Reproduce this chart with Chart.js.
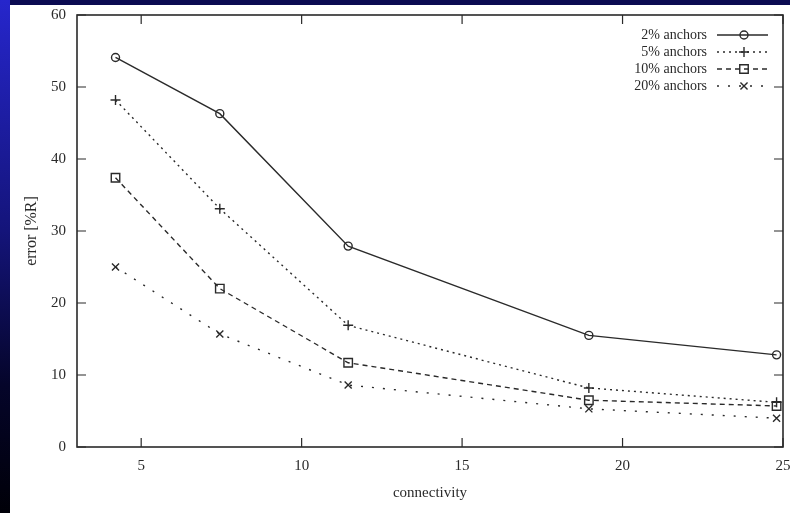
<!DOCTYPE html>
<html>
<head>
<meta charset="utf-8">
<script src="https://cdn.jsdelivr.net/npm/chart.js@4.4.1/dist/chart.umd.min.js"></script>
<style>
  html, body { margin: 0; padding: 0; width: 790px; height: 513px; overflow: hidden; background: #0b0b52; }
  #strip { position: absolute; left: 0; top: 0; width: 10px; height: 513px; background: linear-gradient(to bottom, #2626cc 0%, #14147a 45%, #05052a 75%, #000008 100%); }
  #panel { position: absolute; left: 10px; top: 5px; width: 780px; height: 508px; background: #ffffff; overflow: hidden; }
  canvas { display: block; margin-top: -2px; }
</style>
</head>
<body>
<div id="strip"></div>
<div id="panel"><canvas id="c" width="800" height="510"></canvas></div>
<script>
// ---- data ----
const connectivity = [4.2, 7.45, 11.45, 18.95, 24.8];
const anchors2  = [54.1, 46.3, 27.9, 15.5, 12.8];
const anchors5  = [48.2, 33.1, 16.9, 8.2, 6.2];
const anchors10 = [37.4, 22.0, 11.7, 6.5, 5.7];
const anchors20 = [25.0, 15.7, 8.6, 5.3, 4.0];
const seriesLabels = ['2% anchors', '5% anchors', '10% anchors', '20% anchors'];
const xTickValues = [5, 10, 15, 20, 25];
const yTickValues = [0, 10, 20, 30, 40, 50, 60];

const ink = '#2a2a2a';
const font = "'Liberation Serif', 'DejaVu Serif', serif";

function pts(ys) { return connectivity.map((x, i) => ({ x: x, y: ys[i] })); }

const styles = [
  { dash: [],      style: 'circle',   r: 4 },
  { dash: [2, 4],  style: 'cross',    r: 5 },
  { dash: [5, 4],  style: 'rect',     r: 6 },
  { dash: [2, 9],  style: 'crossRot', r: 5 }
];
const seriesData = [anchors2, anchors5, anchors10, anchors20];

const datasets = seriesData.map((ys, i) => ({
  label: seriesLabels[i],
  data: pts(ys),
  borderColor: ink,
  borderWidth: 1.4,
  borderDash: styles[i].dash,
  pointStyle: styles[i].style,
  pointRadius: styles[i].r,
  pointBorderColor: ink,
  pointBorderWidth: 1.4,
  pointBackgroundColor: 'rgba(255,255,255,0)',
  fill: false,
  tension: 0
}));

const frame = {
  id: 'gnuplotFrame',
  afterDatasetsDraw(chart) {
    const ctx = chart.ctx;
    const a = chart.chartArea;
    const xs = chart.scales.x, ys = chart.scales.y;
    ctx.save();
    ctx.strokeStyle = ink;
    ctx.lineWidth = 1.6;
    ctx.setLineDash([]);
    ctx.strokeRect(a.left, a.top, a.right - a.left, a.bottom - a.top);
    const tl = 9;
    ctx.lineWidth = 1.2;
    ctx.beginPath();
    xTickValues.forEach(v => {
      const px = xs.getPixelForValue(v);
      ctx.moveTo(px, a.bottom); ctx.lineTo(px, a.bottom - tl);
      ctx.moveTo(px, a.top); ctx.lineTo(px, a.top + tl);
    });
    yTickValues.forEach(v => {
      const py = ys.getPixelForValue(v);
      ctx.moveTo(a.left, py); ctx.lineTo(a.left + tl, py);
      ctx.moveTo(a.right, py); ctx.lineTo(a.right - tl, py);
    });
    ctx.stroke();

    // legend (gnuplot style, top right inside)
    const textRight = 697, lineL = 707, lineR = 758, mark = 734;
    const rowY = [32, 49, 66, 83];
    ctx.font = "14px " + font;
    ctx.fillStyle = ink;
    ctx.textAlign = 'right';
    ctx.textBaseline = 'middle';
    chart.data.datasets.forEach((ds, i) => {
      const y = rowY[i];
      ctx.fillText(ds.label, textRight, y);
      ctx.save();
      ctx.strokeStyle = ink;
      ctx.lineWidth = 1.4;
      ctx.setLineDash(ds.borderDash);
      ctx.beginPath(); ctx.moveTo(lineL, y); ctx.lineTo(lineR, y); ctx.stroke();
      ctx.setLineDash([]);
      ctx.fillStyle = 'rgba(255,255,255,0)';
      Chart.helpers.drawPoint(ctx, { pointStyle: ds.pointStyle, radius: ds.pointRadius, rotation: 0, borderWidth: 1.4 }, mark, y);
      ctx.restore();
    });
    ctx.restore();
  }
};

new Chart(document.getElementById('c'), {
  type: 'line',
  data: { datasets: datasets },
  plugins: [frame],
  options: {
    responsive: false,
    animation: false,
    layout: { padding: { top: 0, right: 27, left: 0, bottom: 0 } },
    plugins: { legend: { display: false }, tooltip: { enabled: false } },
    scales: {
      x: {
        type: 'linear',
        min: 3, max: 25,
        afterBuildTicks: s => { s.ticks = xTickValues.map(v => ({ value: v })); },
        afterFit: s => { s.height = 66; },
        grid: { display: false },
        border: { display: false },
        ticks: { color: ink, font: { family: font, size: 15 }, padding: 2, maxRotation: 0 },
        title: { display: true, text: 'connectivity', color: ink, font: { family: font, size: 15 }, padding: { top: 4, bottom: 11 } }
      },
      y: {
        min: 0, max: 60,
        afterBuildTicks: s => { s.ticks = yTickValues.map(v => ({ value: v })); },
        afterFit: s => { s.width = 67; },
        grid: { display: false },
        border: { display: false },
        ticks: { color: ink, font: { family: font, size: 15 }, padding: 3 },
        title: { display: true, text: 'error [%R]', color: ink, font: { family: font, size: 16 }, padding: { top: 12, bottom: 0 } }
      }
    }
  }
});
</script>
</body>
</html>
